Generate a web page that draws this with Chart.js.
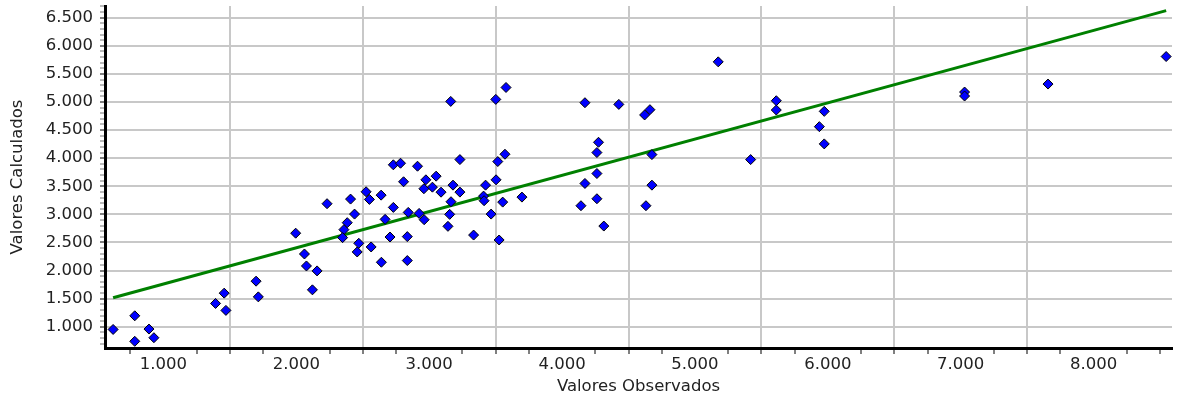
<!DOCTYPE html>
<html>
<head>
<meta charset="utf-8">
<script src="https://cdn.jsdelivr.net/npm/chart.js@4.4.1/dist/chart.umd.min.js"></script>
<style>
  html, body { margin: 0; padding: 0; background: #fff; }
  #wrap { width: 1178px; height: 401px; }
</style>
</head>
<body>
<div id="wrap"><canvas id="scatter"></canvas></div>
<script>
const observed = [
  621, 784, 784, 891, 928, 1392, 1457, 1470, 1697, 1714,
  1995, 2231, 2061, 2076, 2156, 2121, 2408, 2438, 2383, 2358,
  2348, 2525, 2550, 2470, 2458, 2563, 2638, 2730, 2668, 2705,
  2640, 2730, 2784, 2807, 2842, 2835, 2835, 2912, 2975, 2960,
  3024, 3052, 3089, 2924, 2962, 3231, 3179, 3231, 3164, 3154,
  3141, 3334, 3424, 3503, 3409, 3413, 3466, 3553, 3526, 3516,
  3570, 3698, 3162, 3501, 3578, 4172, 4427, 4621, 4661, 4274,
  4262, 4262, 4172, 4262, 4142, 4314, 4676, 4676, 4631, 5175,
  5419, 5612, 5612, 5973, 5936, 5973, 7029, 7029, 7657, 8546
];
const calculated = [
  952, 1195, 741, 959, 805, 1415, 1598, 1291, 1811, 1532,
  2665, 3190, 2295, 2082, 1994, 1657, 3272, 3005, 2852, 2728,
  2586, 3402, 3266, 2485, 2331, 2420, 3342, 3124, 2911, 2597,
  2148, 3882, 3910, 3580, 3035, 2604, 2178, 3857, 3615, 3456,
  3484, 3680, 3395, 3017, 2905, 3975, 3520, 3396, 3225, 3000,
  2787, 2632, 3520, 3615, 3325, 3243, 3005, 3218, 2544, 3940,
  4070, 3307, 5010, 5046, 5258, 4987, 4957, 4769, 4863, 4283,
  4100, 3727, 3550, 3278, 3154, 2792, 4064, 3520, 3154, 5714,
  3975, 5022, 4857, 4833, 4561, 4254, 5177, 5106, 5319, 5809
];

// fitted line, its two ends
const fitX = [621, 8546];
const fitY = [1515, 6626];

// axis ranges, labelled ticks, grid positions
const xRange = [560, 8590];
const yRange = [622, 6708];
const xLabels = [1000, 2000, 3000, 4000, 5000, 6000, 7000, 8000];
const xGrid = [1500, 2500, 3500, 4500, 5500, 6500, 7500];
const yLabels = [1000, 1500, 2000, 2500, 3000, 3500, 4000, 4500, 5000, 5500, 6000, 6500];

function steps(from, to, step) {
    const out = [];
    for (let v = from; v <= to; v += step) out.push({ value: v });
    return out;
}

function fmt(v) {
    const s = String(v);
    return s.slice(0, -3) + '.' + s.slice(-3);
}

const clear = 'rgba(0,0,0,0)';
const gridGray = '#c8c8c8';

Chart.defaults.font.family = 'DejaVu Sans';
Chart.defaults.font.size = 16.5;
Chart.defaults.color = '#222';

const points = observed.map((x, i) => ({ x: x, y: calculated[i] }));
const fitLine = fitX.map((x, i) => ({ x: x, y: fitY[i] }));

const config = {
    type: 'scatter',
    data: {
        datasets: [{
            label: 'Valores',
            data: points,
            pointStyle: 'rectRot',
            pointRadius: 5,
            backgroundColor: '#0000ff',
            borderColor: '#000',
            borderWidth: 1,
            order: 1
        }, {
            type: 'line',
            label: 'Ajuste',
            data: fitLine,
            borderColor: '#008000',
            borderWidth: 3,
            pointRadius: 0,
            fill: false,
            order: 2
        }]
    },
    options: {
        responsive: true,
        maintainAspectRatio: false,
        animation: false,
        layout: { padding: { top: 5, right: 0, bottom: 0, left: 0 } },
        plugins: {
            legend: { display: false },
            tooltip: { enabled: false }
        },
        scales: {
            x: {
                type: 'linear',
                min: xRange[0],
                max: xRange[1],
                afterBuildTicks: s => { s.ticks = steps(750, 8500, 250); },
                border: { color: '#000', width: 3 },
                grid: {
                    // grid lines sit half way between the labels
                    color: c => (c.tick && xGrid.includes(c.tick.value)) ? gridGray : clear,
                    lineWidth: 2,
                    tickLength: 6,
                    tickWidth: 1,
                    tickColor: c => (c.tick && xLabels.includes(c.tick.value)) ? clear : '#000'
                },
                ticks: {
                    autoSkip: false,
                    maxRotation: 0,
                    minRotation: 0,
                    padding: 1,
                    callback: v => xLabels.includes(v) ? fmt(v) : ''
                },
                title: {
                    display: true,
                    text: 'Valores Observados',
                    padding: { top: 0, bottom: 4 }
                },
                afterFit: s => { s.height = 53; s.paddingLeft = 0; s.paddingRight = 0; }
            },
            y: {
                type: 'linear',
                min: yRange[0],
                max: yRange[1],
                afterBuildTicks: s => { s.ticks = steps(700, 6700, 100); },
                border: { color: '#000', width: 3 },
                grid: {
                    color: c => (c.tick && yLabels.includes(c.tick.value)) ? gridGray : clear,
                    lineWidth: 2,
                    tickLength: 5,
                    tickWidth: 1,
                    tickColor: c => (c.tick && yLabels.includes(c.tick.value)) ? '#000' : '#777'
                },
                ticks: {
                    autoSkip: false,
                    padding: 7,
                    callback: v => yLabels.includes(v) ? fmt(v) : ''
                },
                title: {
                    display: true,
                    text: 'Valores Calculados',
                    padding: { top: 8, bottom: 0 }
                },
                afterFit: s => { s.width = 105; s.paddingTop = 0; s.paddingBottom = 0; }
            }
        }
    }
};

const scatterChart = new Chart(document.getElementById('scatter').getContext('2d'), config);
</script>
</body>
</html>
